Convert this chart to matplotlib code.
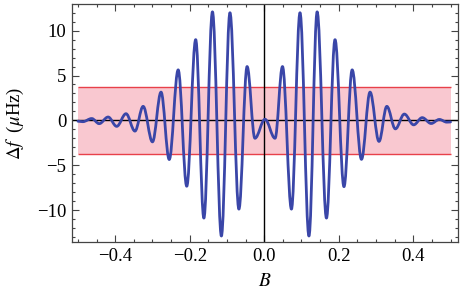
import matplotlib
matplotlib.use('Agg')
import matplotlib.pyplot as plt
from matplotlib.path import Path
from matplotlib.patches import PathPatch
from matplotlib.ticker import MultipleLocator

# extrema of the oscillation (B, Δf in μHz)
B_ext = [-0.500, -0.487, -0.463, -0.443, -0.419, -0.396, -0.371, -0.347,
         -0.325, -0.300, -0.277, -0.255, -0.231, -0.208, -0.184, -0.162,
         -0.139, -0.115, -0.092, -0.068, -0.046, -0.025, 0.002, 0.029,
         0.049, 0.073, 0.096, 0.120, 0.142, 0.167, 0.190, 0.214,
         0.236, 0.261, 0.284, 0.308, 0.329, 0.352, 0.376, 0.401,
         0.424, 0.448, 0.470, 0.490, 0.500]
df_ext = [-0.10, -0.15, 0.20, -0.37, 0.37, -0.67, 0.74, -1.20,
          1.56, -2.40, 3.15, -4.37, 5.63, -7.35, 9.00, -10.90,
          12.10, -12.90, 12.00, -9.90, 6.00, -2.00, 0.12, -2.00,
          6.00, -9.90, 12.00, -12.90, 12.10, -10.90, 9.00, -7.40,
          5.63, -4.35, 3.15, -2.35, 1.56, -0.95, 0.70, -0.50,
          0.30, -0.35, 0.10, -0.20, -0.18]

# shaded tolerance band
band_x = [-0.5, 0.5]
band_lo = -3.78
band_hi = 3.70

plt.rcParams['mathtext.fontset'] = 'stix'
plt.rcParams['font.family'] = ['Liberation Serif', 'DejaVu Serif']

fig = plt.figure(figsize=(4.69, 2.93), dpi=100)
ax = fig.add_axes([0.1535, 0.174, 0.823, 0.8125])

ax.fill_between(band_x, band_lo, band_hi, color='#F9C8D0', lw=0, zorder=1)
ax.hlines([band_lo, band_hi], band_x[0], band_x[1], colors='#E8404A', lw=1.0, zorder=2)
ax.axhline(0, color='black', lw=1.0, zorder=2)
ax.axvline(0, color='black', lw=1.0, zorder=2)

# smooth half-cosine-like segments between consecutive extrema
d = 0.364
verts = [(B_ext[0], df_ext[0])]
codes = [Path.MOVETO]
for x0, y0, x1, y1 in zip(B_ext[:-1], df_ext[:-1], B_ext[1:], df_ext[1:]):
    w = x1 - x0
    verts += [(x0 + d * w, y0), (x1 - d * w, y1), (x1, y1)]
    codes += [Path.CURVE4] * 3
curve = PathPatch(Path(verts, codes), fill=False, edgecolor='#3A46A8', lw=2.0,
                  capstyle='round', joinstyle='round', zorder=3)
ax.add_patch(curve)

ax.set_xlim(-0.516, 0.52)
ax.set_ylim(-13.57, 12.98)
ax.xaxis.set_major_locator(MultipleLocator(0.2))
ax.xaxis.set_minor_locator(MultipleLocator(0.05))
ax.yaxis.set_major_locator(MultipleLocator(5))
ax.yaxis.set_minor_locator(MultipleLocator(1))
ax.tick_params(which='both', direction='in', top=True, right=True,
               labelsize=13.5, color='#444444', width=0.8, pad=4)
ax.tick_params(which='major', length=5)
ax.tick_params(which='minor', length=2.5)
ax.set_xticks([-0.4, -0.2, 0.0, 0.2, 0.4])
ax.set_xticklabels(['\u22120.4', '\u22120.2', '0.0', '0.2', '0.4'])
ax.set_yticks([-10, -5, 0, 5, 10])
ax.set_yticklabels(['\u221210', '\u22125', '0', '5', '10'])
for s in ax.spines.values():
    s.set_color('#444444')
    s.set_linewidth(0.9)

ax.set_xlabel(r'$B$', fontsize=14)
ax.set_ylabel(r'$\Delta f\ $ ($\mu$Hz)', fontsize=13.5)
ax.xaxis.set_label_coords(0.5, -0.13)
ax.yaxis.set_label_coords(-0.118, 0.5)

plt.savefig('out.png', dpi=100)
